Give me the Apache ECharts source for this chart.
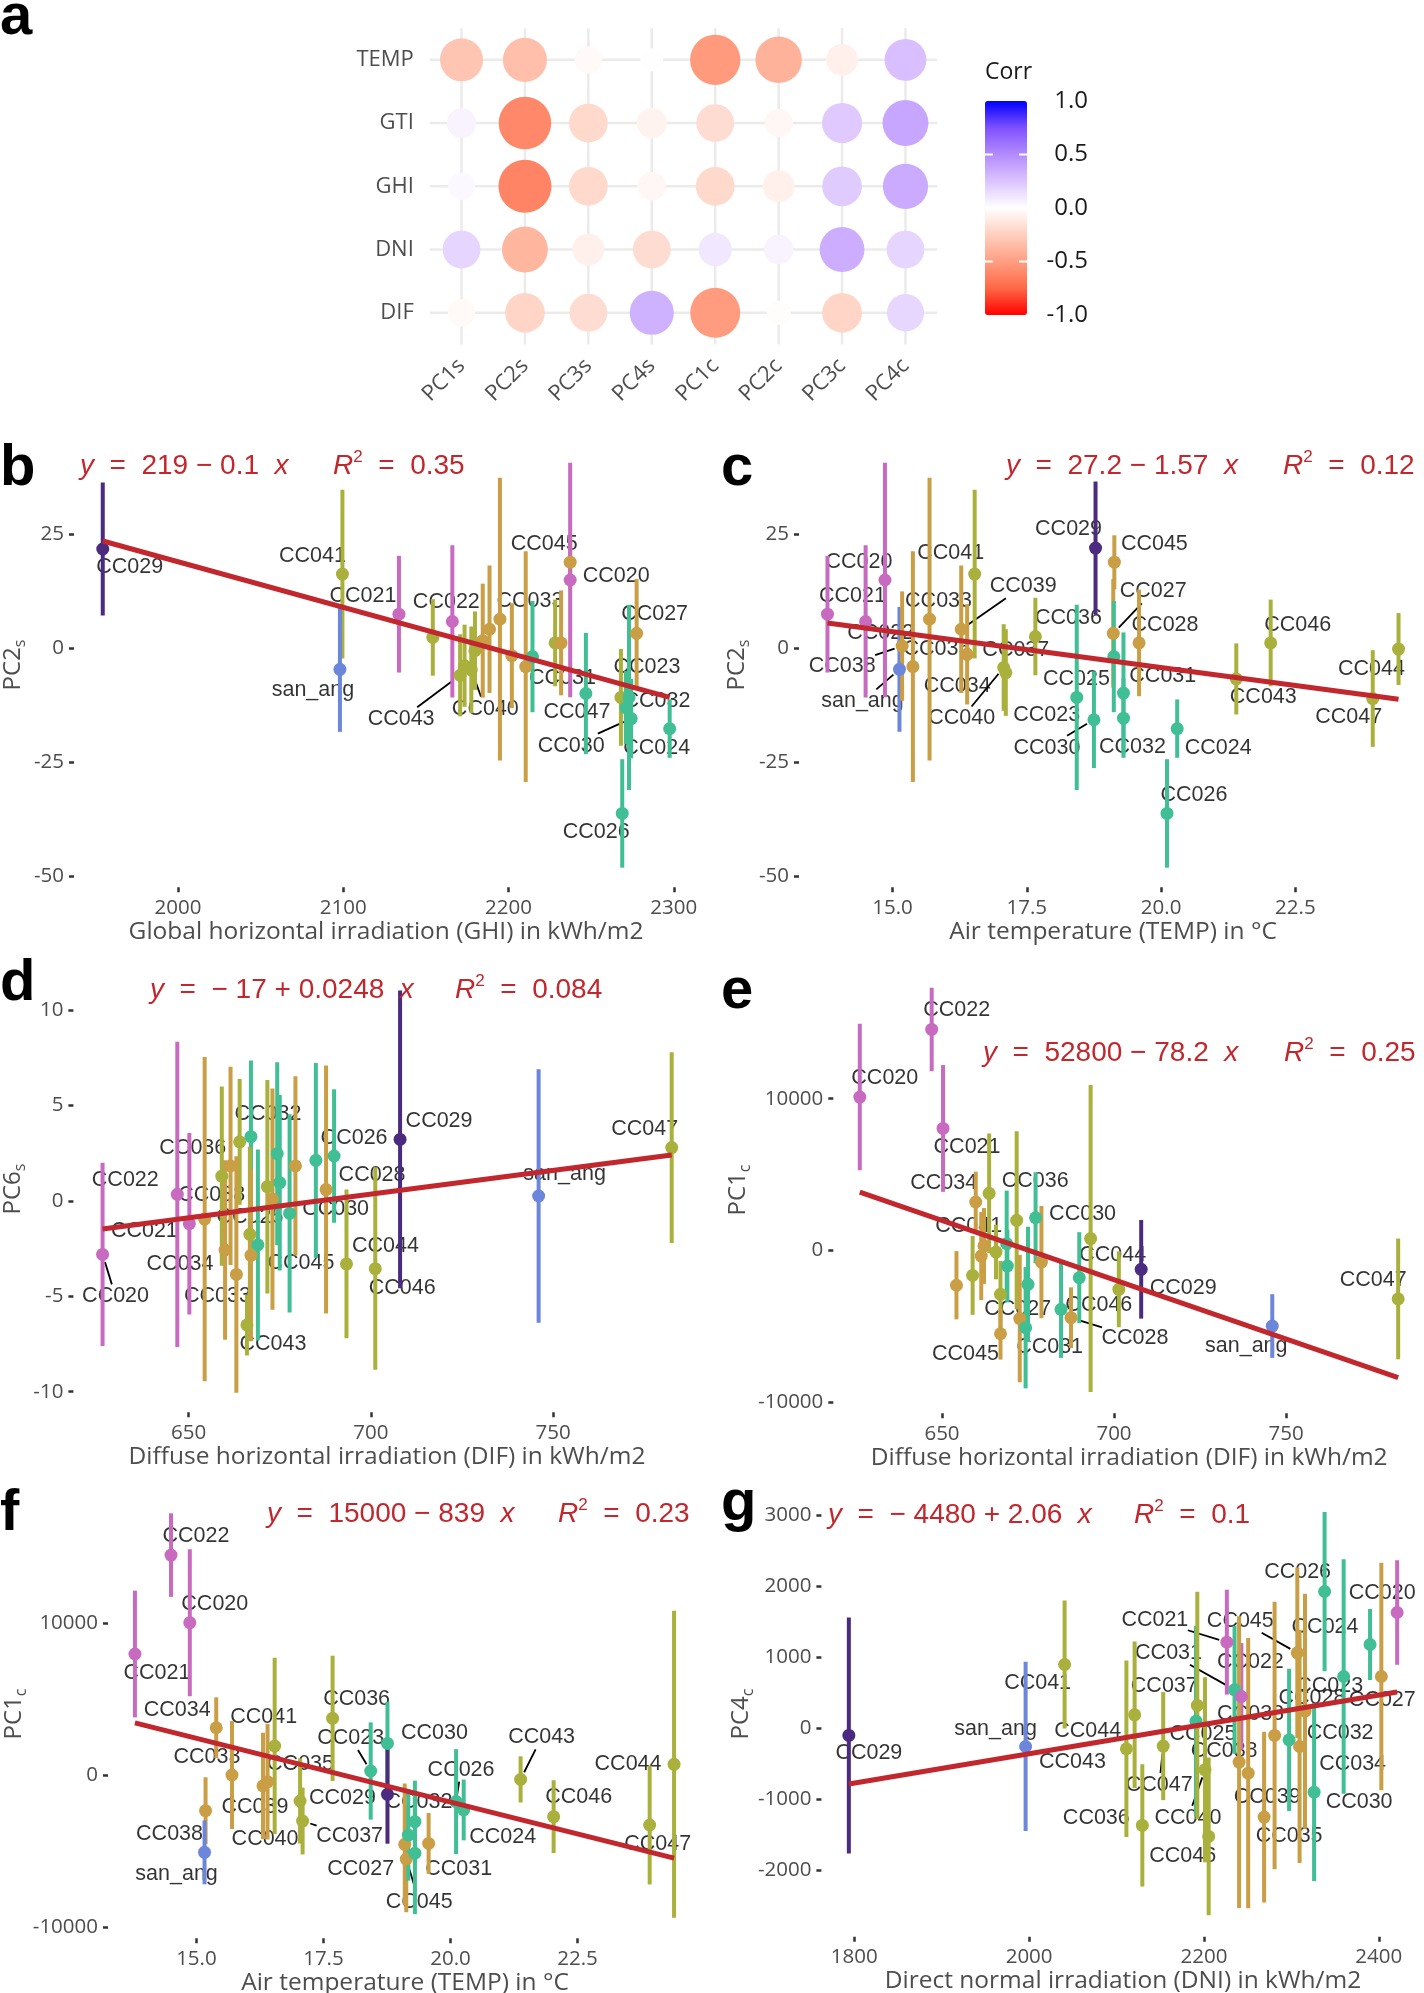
<!DOCTYPE html>
<html>
<head>
<meta charset="utf-8">
<script src="https://cdn.jsdelivr.net/npm/echarts@6.0.0/dist/echarts.min.js"></script>
<style>
html,body{margin:0;padding:0;background:#ffffff;}
#chart{width:1424px;height:1993px;}
</style>
</head>
<body>
<div id="chart"></div>
<script>
// ================= DATA =================
// ---- panel a : correlation matrix ----
const corrRows = ['TEMP','GTI','GHI','DNI','DIF'];
const corrCols = ['PC1s','PC2s','PC3s','PC4s','PC1c','PC2c','PC3c','PC4c'];
const corrTEMP = [-0.30,-0.33,-0.03,0.005,-0.52,-0.40,-0.08,0.27];
const corrGTI  = [0.05,-0.60,-0.20,-0.06,-0.18,-0.04,0.23,0.38];
const corrGHI  = [0.03,-0.62,-0.20,-0.04,-0.20,-0.08,0.22,0.36];
const corrDNI  = [0.18,-0.38,-0.08,-0.18,0.10,0.05,0.35,0.18];
const corrDIF  = [-0.03,-0.22,-0.18,0.33,-0.51,-0.01,-0.22,0.17];
const corrLegendTicks = [1.0,0.5,0.0,-0.5,-1.0];

// ---- tick labels ----
const ticksGHI  = [2000,2100,2200,2300];
const ticksPC2s = [-50,-25,0,25];
const ticksTEMP = [15.0,17.5,20.0,22.5];
const ticksDIF  = [650,700,750];
const ticksPC6s = [-10,-5,0,5,10];
const ticksPC1c = [-10000,0,10000];
const ticksDNI  = [1800,2000,2200,2400];
const ticksPC4c = [-2000,-1000,0,1000,2000,3000];

// ---- fits (b..g) ----
const fitIntercept = [219, 27.2, -17, 52800, 15000, -4480];
const fitSlope     = [-0.1, -1.57, 0.0248, -78.2, -839, 2.06];
const fitR2        = ['0.35','0.12','0.084','0.25','0.23','0.1'];

// ---- panel b : GHI vs PC2s ----
const ghi_b = [1954.5,2099.5,2098,2133.7,2154.2,2166,2170.7,2173.4,2177.5,2179.7,2184.4,2188.5,2194.8,2202,2210.4,2214.5,2228.2,2231.8,2237.3,2237.3,2246.8,2268,2268.8,2272.9,2274.2,2271,2297.5,2277.5];
const pc2s_b = [21.8,16.3,-4.6,7.5,2.4,5.9,-5.9,-3.8,-4.7,-0.5,1.7,4.2,6.4,-1.6,-4,-1.8,1.2,1.2,18.9,15,-9.9,-10.75,-36.2,-10.75,-15.4,-13,-17.6,3.3];
const pc2sErr_b = [14.6,18.5,13.7,12.8,8.4,16.7,9,9,9.5,8.6,12.5,14,31,11.5,25.3,12.2,9.5,11.5,5.9,25.7,13.3,10.6,11.9,20.3,8.7,8,6.4,11.9];
const group_b = ['purple','olive','blue','pink','olive','pink','olive','olive','olive','olive','gold','gold','gold','gold','gold','teal','olive','gold','gold','pink','teal','olive','teal','teal','teal','teal','teal','gold'];
const site_b = ['CC029','CC041','san_ang','CC021','','CC022','CC043','','CC040','','','','CC033','','','CC031','','','CC045','CC020','','CC047','CC026','CC023','CC030','CC032','CC024','CC027'];

// ---- panel c : TEMP vs PC2s ----
const temp_c = [13.79,14.5,14.86,15.13,15.18,15.38,15.69,16.28,16.39,16.53,17.07,17.11,17.66,18.43,18.75,18.78,19.13,19.11,19.12,19.3,19.3,19.59,20.3,20.11,21.4,22.04,23.94,24.42];
const pc2s_c = [7.5,5.9,15,-4.6,0.5,-4,6.4,4.2,-1.3,16.3,-4.2,-5.3,2.6,-10.75,-15.65,22,18.9,3.3,-1.8,-9.8,-15.3,1.2,-17.6,-36.2,-6.7,1.2,-11,-0.15];
const pc2sErr_c = [12.8,16.7,25.7,13.7,12,25.3,31,14,11,18.5,9.5,9.5,8.5,20.3,10.6,14.6,5.9,11.9,12.2,13.3,8.7,11.7,6.4,11.9,7.8,9.5,10.6,7.9];
const group_c = ['pink','pink','pink','blue','gold','gold','gold','gold','gold','olive','olive','olive','olive','teal','teal','purple','gold','gold','teal','teal','teal','gold','teal','teal','olive','olive','olive','olive'];
const site_c = ['CC021','CC022','CC020','san_ang','CC038','CC035','CC033','CC039','CC034','CC041','CC040','CC037','CC036','CC023','CC030','CC029','CC045','CC027','CC031','CC025','CC032','CC028','CC024','CC026','CC043','CC046','CC047','CC044'];

// ---- panel d : DIF vs PC6s ----
const dif_d = [626.4,646.9,650.2,654.4,659.1,660,661.5,664,663.1,667.1,666.8,667.1,666,669,671.6,674.3,675,673,677.7,679.3,684.9,687.7,689.9,693.3,701.2,708,746,782.5];
const pc6s_d = [-2.8,0.35,-1.19,-0.95,1.3,-2.57,1.84,3.1,-3.85,3.37,-1.75,-2.85,-6.5,-2.3,0.75,2.48,0.96,0.1,-0.65,1.84,2.13,0.6,2.36,-3.3,-3.55,3.23,0.26,2.8];
const pc6sErr_d = [4.8,8,4.76,8.5,4.7,4.7,5.2,3.3,6.2,4,4.6,4.5,1.6,5,5.6,4.8,4.6,5.8,5.2,4.7,5.1,6.5,3.5,3.9,5.3,7.8,6.65,5];
const group_d = ['pink','pink','pink','gold','olive','gold','gold','olive','gold','teal','olive','gold','olive','teal','olive','teal','teal','gold','teal','gold','teal','gold','teal','olive','olive','purple','blue','olive'];
const site_d = ['CC020','CC022','CC021','CC038','CC036','CC034','','','CC033','CC032','','CC045','CC043','CC025','','','','','CC030','','','CC028','CC026','CC044','CC046','CC029','san_ang','CC047'];

// ---- panel e : DIF vs PC1c ----
const dif_e = [626.1,647,650.3,654.2,658.9,659.8,663.7,661.4,665.7,668.8,667,667,671.7,675,672.6,674.3,677.2,678.9,684.6,687.5,689.9,693.2,701.4,707.9,746,782.6,669,662.2];
const pc1c_e = [10110,14570,8040,-2300,-1650,3190,3760,-375,-110,440,-2900,-5500,1980,-2240,-4500,-5100,2150,-770,-3890,-4440,-1800,780,-2570,-1250,-4990,-3200,-1030,290];
const pc1cErr_e = [4830,2750,4180,2250,2600,2000,3950,2900,1800,3500,2200,1700,5870,3800,4200,4000,3000,3700,3200,2000,3000,10120,2500,3250,2100,3980,2400,2500];
const group_e = ['pink','pink','pink','gold','olive','gold','olive','gold','olive','teal','olive','gold','olive','teal','gold','teal','teal','gold','teal','gold','teal','olive','olive','purple','blue','olive','teal','gold'];
const site_e = ['CC020','CC022','CC021','','','CC034','CC036','','','','','CC045','CC041','','CC027','CC031','CC030','','','CC028','','CC044','CC046','CC029','san_ang','CC047','',''];

// ---- panel f : TEMP vs PC1c ----
const temp_f = [13.79,14.5,14.87,15.39,15.18,15.16,15.7,16.31,16.4,16.54,17.04,17.09,17.68,18.43,18.76,18.76,19.1,19.13,19.3,19.3,19.17,19.57,20.11,20.26,21.38,22.03,23.92,24.4];
const pc1c_f = [7960,14470,10020,3110,-2350,-5090,0,-720,-440,1910,-1710,-3030,3730,263,2080,-1270,-4560,-5530,-3070,-5150,-3950,-4500,-1750,-2300,-290,-2740,-3290,700];
const pc1cErr_f = [4170,2750,4830,2000,2200,2100,3550,3500,3800,5800,2800,2200,4120,3200,2740,3250,4000,3500,2700,4000,3000,2000,3450,2000,1520,2400,3910,10100];
const group_f = ['pink','pink','pink','gold','gold','blue','gold','gold','gold','olive','olive','olive','olive','teal','teal','purple','gold','gold','teal','teal','teal','gold','teal','teal','olive','olive','olive','olive'];
const site_f = ['CC021','CC022','CC020','CC034','CC038','san_ang','CC033','CC039','CC035','CC041','CC040','CC037','CC036','CC023','CC030','CC029','CC027','CC045','CC032','','','CC031','CC026','CC024','CC043','CC046','CC047','CC044'];

// ---- panel g : DNI vs PC4c ----
const dni_g = [1793.8,1996,2040.6,2111.3,2120.7,2129.5,2153.4,2190.9,2192.4,2201.2,2205.4,2226.2,2235,2242.8,2240.2,2250.6,2280.8,2268.8,2297.4,2306.8,2309.4,2315.6,2326,2338,2359.8,2390,2402.9,2421];
const pc4c_g = [-103,-258,895,-290,187,-1368,-253,98,319,-586,-1523,1209,539,445,-478,-633,-103,-1251,-164,1059,-258,239,-900,1921,726,1176,726,1626];
const pc4cErr_g = [1660,1190,900,1240,1030,860,760,1340,1600,1300,1110,738,900,750,2050,1900,1880,1200,1000,1200,1640,1650,1250,1120,1650,500,1600,735];
const group_g = ['purple','blue','olive','olive','olive','olive','olive','teal','olive','olive','olive','pink','teal','pink','gold','gold','gold','gold','teal','gold','gold','gold','teal','teal','teal','teal','gold','pink'];
const site_g = ['CC029','san_ang','CC041','CC043','CC044','CC036','CC047','CC025','CC037','CC040','CC046','CC021','CC031','CC022','CC038','CC039','CC033','CC035','CC032','CC045','CC034','CC028','CC030','CC026','CC023','CC024','CC027','CC020'];

// ================= STYLE / LAYOUT =================
const GROUP_COLORS = {pink:'#C86BC0', purple:'#4B2B80', blue:'#6C86DC', teal:'#40BF94', gold:'#C99E45', olive:'#AAB03C'};
const CORR_COLORS = ['#FF0000','#FF6846','#FF9E82','#FFCFBF','#FFFFFF','#DCC4FF','#B38BFF','#7E51FF','#0000FF'];
const AXIS_FONT = '"Open Sans", Lato, sans-serif';
const LABEL_FONT = '"Liberation Sans", Arial, sans-serif';
const FIT_COLOR = '#C1272D';
const AXIS_TEXT = '#4D4D4D';

// label offsets (px, relative to the point) and leader-line lists
const labelPos = {
  b:{CC029:[27,18],CC041:[-30,-18],san_ang:[-27,21],CC021:[-36,-18],CC022:[-6,-19],CC043:[-59,44],CC040:[14,39],CC033:[30,-18],CC031:[30,21],CC045:[-26,-18],CC020:[46,-4],CC047:[-44,15],CC026:[-26,19],CC023:[18,-30],CC030:[-60,27],CC032:[31,-7],CC024:[-13,19],CC027:[18,-19]},
  c:{CC021:[25,-18],CC022:[15,12],CC020:[-26,-18],san_ang:[-37,32],CC038:[-60,20],CC035:[24,-18],CC033:[9,-18],CC039:[62,-43],CC034:[-10,32],CC041:[-24,-21],CC040:[-42,51],CC037:[10,-22],CC036:[33,-18],CC023:[-30,18],CC030:[-47,28],CC029:[-27,-19],CC045:[40,-18],CC027:[40,-42],CC031:[49,19],CC025:[-47,-14],CC032:[9,29],CC028:[26,-18],CC024:[41,19],CC026:[27,-18],CC043:[27,18],CC046:[27,-18],CC047:[-24,19],CC044:[-27,20]},
  d:{CC020:[13,42],CC022:[-52,-14],CC021:[-45,7],CC038:[7,-24],CC036:[-29,-28],CC034:[-45,14],CC033:[-19,22],CC032:[17,-23],CC045:[50,8],CC043:[26,19],CC025:[-8,-28],CC030:[46,-4],CC028:[46,-14],CC026:[20,-18],CC044:[39,-18],CC046:[27,19],CC029:[39,-18],san_ang:[26,-22],CC047:[-27,-19]},
  e:{CC020:[25,-19],CC022:[25,-19],CC021:[24,19],CC034:[-32,-19],CC036:[46,-12],CC045:[-35,20],CC041:[-48,6],CC027:[-2,-10],CC031:[24,19],CC030:[47,-4],CC028:[64,20],CC044:[22,17],CC046:[-20,16],CC029:[42,19],san_ang:[-26,20],CC047:[-25,-19]},
  f:{CC021:[22,19],CC022:[25,-19],CC020:[25,-19],CC034:[-39,-18],CC038:[-36,23],san_ang:[-28,22],CC033:[-25,-18],CC039:[-8,21],CC035:[33,-18],CC041:[-11,-29],CC040:[-35,38],CC037:[47,15],CC036:[24,-19],CC023:[-20,-33],CC030:[47,-10],CC029:[-45,4],CC027:[-44,25],CC045:[13,43],CC032:[4,-20],CC031:[30,26],CC026:[5,-32],CC024:[39,27],CC043:[21,-42],CC046:[25,-20],CC047:[8,19],CC044:[-46,0]},
  g:{CC029:[20,18],san_ang:[-30,-17],CC041:[-27,19],CC043:[-54,13],CC044:[-47,16],CC036:[-46,-7],CC047:[-4,39],CC025:[7,13],CC037:[-33,-19],CC040:[-17,48],CC046:[-26,20],CC021:[-72,-22],CC031:[-66,-37],CC022:[9,-34],CC038:[-15,-11],CC039:[19,24],CC033:[-24,-21],CC035:[25,19],CC032:[51,-7],CC045:[-57,-32],CC034:[53,18],CC028:[7,-13],CC030:[45,10],CC026:[-27,-19],CC023:[-14,10],CC024:[-45,-17],CC027:[1,24],CC020:[-15,-19]}
};
const leaders = {
  b:['CC043','CC040','CC030'],
  c:['CC038','san_ang','CC039','CC027','CC040','CC030'],
  d:['CC020'],
  e:['CC028'],
  f:['CC023','CC043','CC026','CC037','CC045'],
  g:['CC021','CC031','CC045','CC047','CC040']
};

const panels = [
  {key:'b', x:ghi_b, y:pc2s_b, e:pc2sErr_b, g:group_b, s:site_b, xt:ticksGHI, yt:ticksPC2s, xDec:0, xName:'Global horizontal irradiation (GHI) in kWh/m2', yMain:'PC2', ySub:'s',
   grid:[74,443.2,624.1,444.1], xr:[1937.1,2314.7], yr:[-52.4,45], nameGap:30, yTitle:[13,665], eq:[80,333,466], letter:['b',0,469]},
  {key:'c', x:temp_c, y:pc2s_c, e:pc2sErr_c, g:group_c, s:site_c, xt:ticksTEMP, yt:ticksPC2s, xDec:1, xName:'Air temperature (TEMP) in °C', yMain:'PC2', ySub:'s',
   grid:[799,443.2,628,444.1], xr:[13.26,24.95], yr:[-52.4,45], nameGap:30, yTitle:[737,665], eq:[1006,1283,466], letter:['c',721,469]},
  {key:'d', x:dif_d, y:pc6s_d, e:pc6sErr_d, g:group_d, s:site_d, xt:ticksDIF, yt:ticksPC6s, xDec:0, xName:'Diffuse horizontal irradiation (DIF) in kWh/m2', yMain:'PC6', ySub:'s',
   grid:[73.4,966.4,627.1,445.9], xr:[618.4,790.4], yr:[-11.08,12.3], nameGap:29, yTitle:[13,1189], eq:[150,455,990], letter:['d',0,984]},
  {key:'e', x:dif_e, y:pc1c_e, e:pc1cErr_e, g:group_e, s:site_e, xt:ticksDIF, yt:ticksPC1c, xDec:0, xName:'Diffuse horizontal irradiation (DIF) in kWh/m2', yMain:'PC1', ySub:'c',
   grid:[833.3,966.8,591.7,446.4], xr:[618.4,790.4], yr:[-10738,18700], nameGap:29, yTitle:[738,1190], eq:[983,1284,1053], letter:['e',721,992]},
  {key:'f', x:temp_f, y:pc1c_f, e:pc1cErr_f, g:group_f, s:site_f, xt:ticksTEMP, yt:ticksPC1c, xDec:1, xName:'Air temperature (TEMP) in °C', yMain:'PC1', ySub:'c',
   grid:[108,1490.8,594,447.4], xr:[13.26,24.95], yr:[-10738,18700], nameGap:28, yTitle:[14,1714], eq:[267,558,1514], letter:['f',0,1514]},
  {key:'g', x:dni_g, y:pc4c_g, e:pc4cErr_g, g:group_g, s:site_g, xt:ticksDNI, yt:ticksPC4c, xDec:0, xName:'Direct normal irradiation (DNI) in kWh/m2', yMain:'PC4', ySub:'c',
   grid:[821.4,1490.9,603.2,445.8], xr:[1762.4,2452.4], yr:[-2933,3336], nameGap:28, yTitle:[741,1714], eq:[828,1134,1515], letter:['g',721,1504]}
];

// ================= BUILD OPTION =================
const option = {
  animation:false, backgroundColor:'#ffffff',
  textStyle:{fontFamily:AXIS_FONT},
  grid:[], xAxis:[], yAxis:[], series:[], visualMap:[],
  graphic:{elements:[]}
};
const G = option.graphic.elements;

function txt(x, y, text, style, extra) {
  G.push(Object.assign({type:'text', x:x, y:y, silent:true, z:50,
    style:Object.assign({text:text, fill:'#000', align:'left', textAlign:'left', verticalAlign:'middle', textVerticalAlign:'middle'}, style)}, extra || {}));
}

// ---- panel a ----
option.grid.push({left:429.8, top:28.2, width:507.4, height:316.2, outerBoundsMode:'none', containLabel:false});
option.xAxis.push({type:'category', gridIndex:0, data:corrCols, boundaryGap:true,
  axisLine:{show:false, onZero:false}, axisTick:{show:false}, splitLine:{show:false},
  axisLabel:{interval:0, rotate:45, margin:18, color:AXIS_TEXT, fontSize:22, fontFamily:AXIS_FONT}});
option.yAxis.push({type:'category', gridIndex:0, data:corrRows, inverse:true, boundaryGap:true,
  axisLine:{show:false, onZero:false}, axisTick:{show:false}, splitLine:{show:false},
  axisLabel:{interval:0, margin:16, color:AXIS_TEXT, fontSize:22, fontFamily:AXIS_FONT}});
const corrMatrix = [corrTEMP, corrGTI, corrGHI, corrDNI, corrDIF];
const corrData = [];
corrMatrix.forEach((row, r) => row.forEach((v, c) => corrData.push([c, r, v])));
const gridLineData = corrCols.map((_, c) => [c, 0, 0]).concat(corrRows.map((_, r) => [0, r, 1]));
option.series.push({type:'custom', xAxisIndex:0, yAxisIndex:0, z:1, silent:true, data:gridLineData,
  renderItem:(params, api) => {
    const cs = params.coordSys;
    if (api.value(2) === 0) {
      const x = api.coord([api.value(0), 0])[0];
      return {type:'line', shape:{x1:x, y1:cs.y, x2:x, y2:cs.y + cs.height}, style:{stroke:'#EBEBEB', lineWidth:2.5}};
    }
    const y = api.coord([0, api.value(1)])[1];
    return {type:'line', shape:{x1:cs.x, y1:y, x2:cs.x + cs.width, y2:y}, style:{stroke:'#EBEBEB', lineWidth:2.5}};
  }});
option.series.push({type:'scatter', xAxisIndex:0, yAxisIndex:0, z:3, silent:true, data:corrData,
  symbolSize:(v) => 20 + 42 * Math.sqrt(Math.abs(v[2])), itemStyle:{opacity:1}});
option.visualMap.push({type:'continuous', min:-1, max:1, dimension:2, seriesIndex:1,
  inRange:{color:CORR_COLORS}, left:985, top:101, itemWidth:42, itemHeight:214, padding:0,
  calculable:false, text:null, show:true, orient:'vertical'});
txt(985, 72, 'Corr', {fontSize:23, fontFamily:AXIS_FONT, fill:'#1A1A1A'});
corrLegendTicks.forEach(t => {
  const y = 101 + (1 - t) / 2 * 214;
  txt(1088, y, t.toFixed(1), {fontSize:24, fontFamily:AXIS_FONT, fill:'#1A1A1A', align:'right', textAlign:'right'});
  if (Math.abs(t) < 1) {
    G.push({type:'line', silent:true, z:50, shape:{x1:985, y1:y, x2:993, y2:y}, style:{stroke:'#ffffff', lineWidth:2}});
    G.push({type:'line', silent:true, z:50, shape:{x1:1019, y1:y, x2:1027, y2:y}, style:{stroke:'#ffffff', lineWidth:2}});
  }
});
txt(0, 18, 'a', {fontSize:58, fontWeight:'bold', fontFamily:LABEL_FONT});

// ---- scatter panels ----
panels.forEach((P, i) => {
  const gi = i + 1;
  const lab = labelPos[P.key];
  option.grid.push({left:P.grid[0], top:P.grid[1], width:P.grid[2], height:P.grid[3], outerBoundsMode:'none', containLabel:false});
  option.xAxis.push({type:'value', gridIndex:gi, min:P.xr[0], max:P.xr[1],
    axisLine:{show:false, onZero:false}, splitLine:{show:false},
    axisTick:{show:true, customValues:P.xt, length:5, lineStyle:{color:'#333333', width:2.5}},
    axisLabel:{show:true, customValues:P.xt, margin:10, color:AXIS_TEXT, fontSize:20.5, fontFamily:AXIS_FONT,
      formatter:(v) => Number(v).toFixed(P.xDec)},
    name:P.xName, nameLocation:'middle', nameGap:P.nameGap,
    nameTextStyle:{color:AXIS_TEXT, fontSize:24.5, fontFamily:AXIS_FONT}});
  option.yAxis.push({type:'value', gridIndex:gi, min:P.yr[0], max:P.yr[1],
    axisLine:{show:false, onZero:false}, splitLine:{show:false},
    axisTick:{show:true, customValues:P.yt, length:5, lineStyle:{color:'#333333', width:2.5}},
    axisLabel:{show:true, customValues:P.yt, margin:10, color:AXIS_TEXT, fontSize:20.5, fontFamily:AXIS_FONT,
      formatter:(v) => String(Math.round(v))}});

  // labels (bottom layer)
  option.series.push({type:'scatter', xAxisIndex:gi, yAxisIndex:gi, z:1, silent:true, symbolSize:1,
    itemStyle:{color:'rgba(0,0,0,0)'},
    label:{show:false, position:'inside', fontFamily:LABEL_FONT, fontSize:21.5, color:'#000000'},
    data:P.x.map((x, k) => {
      const nm = P.s[k];
      const item = {value:[x, P.y[k]]};
      if (nm && lab[nm]) item.label = {show:true, formatter:nm, offset:lab[nm]};
      return item;
    })});

  // leader lines
  const lnames = leaders[P.key].filter(n => P.s.indexOf(n) >= 0);
  option.series.push({type:'custom', xAxisIndex:gi, yAxisIndex:gi, z:2, silent:true,
    data:lnames.map(n => { const k = P.s.indexOf(n); return [P.x[k], P.y[k]]; }),
    renderItem:(params, api) => {
      const nm = lnames[params.dataIndex];
      const off = lab[nm];
      const p = api.coord([api.value(0), api.value(1)]);
      const dx = off[0], dy = off[1];
      const L = Math.hypot(dx, dy);
      const hw = nm.length * 6 + 3, hh = 12;
      const t = Math.min(hw / Math.max(Math.abs(dx), 1e-6), hh / Math.max(Math.abs(dy), 1e-6));
      if (t >= 0.85) return null;
      const ex = p[0] + dx * (1 - t), ey = p[1] + dy * (1 - t);
      const sx = p[0] + dx / L * 8, sy = p[1] + dy / L * 8;
      return {type:'line', shape:{x1:sx, y1:sy, x2:ex, y2:ey}, style:{stroke:'#000', lineWidth:1.8}};
    }});

  // error bars
  option.series.push({type:'custom', xAxisIndex:gi, yAxisIndex:gi, z:3, silent:true,
    data:P.x.map((x, k) => [x, P.y[k] - P.e[k], P.y[k] + P.e[k]]),
    encode:{x:0, y:[1, 2]},
    renderItem:(params, api) => {
      const a = api.coord([api.value(0), api.value(1)]);
      const b = api.coord([api.value(0), api.value(2)]);
      return {type:'line', shape:{x1:a[0], y1:a[1], x2:b[0], y2:b[1]},
        style:{stroke:GROUP_COLORS[P.g[params.dataIndex]], lineWidth:4}};
    }});

  // points
  option.series.push({type:'scatter', xAxisIndex:gi, yAxisIndex:gi, z:4, silent:true, symbolSize:13,
    data:P.x.map((x, k) => ({value:[x, P.y[k]], itemStyle:{color:GROUP_COLORS[P.g[k]], opacity:1}}))});

  // regression line
  const a0 = fitIntercept[i], b0 = fitSlope[i];
  const xmin = Math.min.apply(null, P.x), xmax = Math.max.apply(null, P.x);
  option.series.push({type:'line', xAxisIndex:gi, yAxisIndex:gi, z:5, silent:true, symbol:'none',
    lineStyle:{color:FIT_COLOR, width:5, cap:'butt'},
    data:[[xmin, a0 + b0 * xmin], [xmax, a0 + b0 * xmax]]});

  // equation
  const aStr = a0 < 0 ? '− ' + Math.abs(a0) : String(a0);
  const bStr = (b0 < 0 ? ' − ' : ' + ') + Math.abs(b0);
  const eqStyle = {fontSize:28, fontFamily:LABEL_FONT, fill:FIT_COLOR, lineHeight:34,
    rich:{i:{fontStyle:'italic', fontSize:28, fontFamily:LABEL_FONT, fill:FIT_COLOR, lineHeight:34},
          sup:{fontSize:17, fontFamily:LABEL_FONT, fill:FIT_COLOR, lineHeight:15, verticalAlign:'top'}}};
  txt(P.eq[0], P.eq[2], '{i|y}  =  ' + aStr + bStr + '  {i|x}', eqStyle);
  txt(P.eq[1], P.eq[2], '{i|R}{sup|2}  =  ' + fitR2[i], eqStyle);

  // y-axis title (rotated, with subscript)
  txt(P.yTitle[0], P.yTitle[1], '{m|' + P.yMain + '}{s|' + P.ySub + '}',
    {align:'center', textAlign:'center', fontSize:24, fontFamily:AXIS_FONT, fill:AXIS_TEXT,
     rich:{m:{fontSize:24, fontFamily:AXIS_FONT, fill:AXIS_TEXT, lineHeight:30},
           s:{fontSize:16, fontFamily:AXIS_FONT, fill:AXIS_TEXT, lineHeight:15, verticalAlign:'bottom'}}},
    {rotation:Math.PI / 2});

  // panel letter
  txt(P.letter[1], P.letter[2], P.letter[0], {fontSize:58, fontWeight:'bold', fontFamily:LABEL_FONT});
});

const chart = echarts.init(document.getElementById('chart'), null, {renderer:'canvas', width:1424, height:1993});
chart.setOption(option);
</script>
</body>
</html>
